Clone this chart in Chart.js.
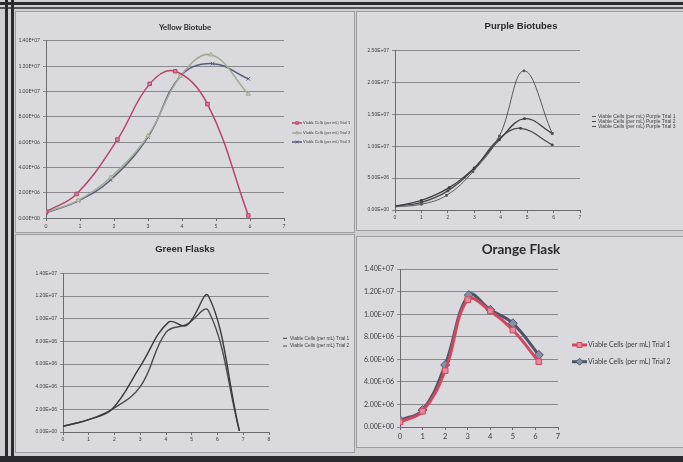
<!DOCTYPE html>
<html>
<head>
<meta charset="utf-8">
<script src="https://cdn.jsdelivr.net/npm/chart.js@4/dist/chart.umd.min.js"></script>
<style>
  html, body { margin: 0; padding: 0; }
  body { width: 683px; height: 462px; position: relative; overflow: hidden; background: #cfcfd4; }
  .band { position: absolute; background: #2a2a30; }
  .panel { position: absolute; background: #dadade; border: 1px solid #9c9ca2; box-sizing: border-box; }
  .panel canvas { position: absolute; left: 0; top: 0; }
</style>
</head>
<body>
<div class="band" style="left:0;top:2px;width:683px;height:3px;"></div>
<div class="band" style="left:0;top:7px;width:683px;height:2px;background:#55555c;"></div>
<div class="band" style="left:5px;top:0;width:3px;height:462px;"></div>
<div class="band" style="left:11px;top:0;width:3px;height:462px;"></div>
<div class="band" style="left:0;top:456px;width:683px;height:6px;"></div>

<div class="panel" style="left:15px;top:11px;width:340px;height:222px;"><canvas id="yellow"></canvas></div>
<div class="panel" style="left:356px;top:11px;width:330px;height:220px;"><canvas id="purple"></canvas></div>
<div class="panel" style="left:15px;top:234px;width:340px;height:219px;"><canvas id="green"></canvas></div>
<div class="panel" style="left:356px;top:236px;width:330px;height:212px;"><canvas id="orange"></canvas></div>

<script>
// Yellow Biotube
const yellowTrial1X = [0, 0.9, 2.1, 3.05, 3.8, 4.75, 5.95];
const yellowTrial1Y = [5.0e5, 1.9e6, 6.2e6, 1.06e7, 1.16e7, 9.0e6, 2.0e5];
const yellowTrial2X = [0, 0.95, 1.9, 3.0, 3.95, 4.85, 5.95];
const yellowTrial2Y = [4.5e5, 1.4e6, 3.2e6, 6.5e6, 1.12e7, 1.29e7, 9.8e6];
const yellowTrial3X = [0, 0.95, 1.9, 3.0, 3.95, 4.9, 5.95];
const yellowTrial3Y = [4.0e5, 1.35e6, 3.0e6, 6.4e6, 1.12e7, 1.22e7, 1.1e7];

// Purple Biotubes
const purpleTrial1X = [0, 1, 1.95, 2.95, 3.95, 4.88, 5.95];
const purpleTrial1Y = [5.0e5, 9.0e5, 2.3e6, 6.0e6, 1.16e7, 2.18e7, 1.2e7];
const purpleTrial2X = [0, 1, 2.05, 3.0, 3.95, 4.9, 5.95];
const purpleTrial2Y = [6.0e5, 1.5e6, 3.5e6, 6.6e6, 1.1e7, 1.43e7, 1.2e7];
const purpleTrial3X = [0, 1, 2.0, 3.0, 3.9, 4.75, 5.95];
const purpleTrial3Y = [6.0e5, 1.2e6, 3.0e6, 6.5e6, 1.1e7, 1.28e7, 1.02e7];

// Green Flasks
const greenTrial1X = [0, 1, 1.9, 3.0, 4.1, 4.8, 5.65, 6.85];
const greenTrial1Y = [5.0e5, 1.1e6, 2.0e6, 5.8e6, 9.7e6, 9.4e6, 1.2e7, 1.0e5];
const greenTrial2X = [0, 1, 1.9, 3.0, 4.0, 4.8, 5.65, 6.85];
const greenTrial2Y = [5.0e5, 1.1e6, 2.0e6, 4.0e6, 8.8e6, 9.5e6, 1.07e7, 1.0e5];

// Orange Flask
const orangeTrial1X = [0, 1, 2, 3, 4, 5, 6.15];
const orangeTrial1Y = [4.5e5, 1.4e6, 5.0e6, 1.13e7, 1.03e7, 8.6e6, 5.8e6];
const orangeTrial2X = [0, 1, 2, 3.05, 4, 5, 6.15];
const orangeTrial2Y = [6.0e5, 1.5e6, 5.5e6, 1.17e7, 1.04e7, 9.2e6, 6.4e6];

function pairs(xs, ys) {
    return xs.map((x, i) => ({ x: x, y: ys[i] }));
}

// Excel style 1.40E+07
function sci(v) {
    if (v === 0) return "0.00E+00";
    let e = Math.floor(Math.log10(Math.abs(v)) + 1e-9);
    let m = v / Math.pow(10, e);
    return m.toFixed(2) + "E+" + String(e).padStart(2, "0");
}

// Excel puts the legend off to the right, line + marker + text
const sideLegend = {
    id: "sideLegend",
    afterDraw(chart, args, opts) {
        const ctx = chart.ctx;
        ctx.save();
        chart.data.datasets.forEach((ds, i) => {
            const y = opts.y[i];
            ctx.strokeStyle = ds.borderColor;
            ctx.lineWidth = opts.lineWidth;
            ctx.beginPath();
            ctx.moveTo(opts.x1, y);
            ctx.lineTo(opts.x2, y);
            ctx.stroke();
            if (opts.marker > 0) {
                ctx.fillStyle = ds.pointBackgroundColor;
                ctx.strokeStyle = ds.borderColor;
                ctx.lineWidth = 1;
                Chart.helpers.drawPoint(ctx, { pointStyle: ds.pointStyle, radius: opts.marker, rotation: 0, borderWidth: 1 }, (opts.x1 + opts.x2) / 2, y);
            }
            ctx.fillStyle = "#3a3a40";
            ctx.font = opts.font;
            ctx.textBaseline = "middle";
            ctx.textAlign = "left";
            ctx.fillText(ds.label, opts.textX, y);
        });
        ctx.restore();
    }
};

function makeChart(id, w, h, cfg) {
    const canvas = document.getElementById(id);
    canvas.style.width = w + "px";
    canvas.style.height = h + "px";
    canvas.width = w;
    canvas.height = h;

    return new Chart(canvas.getContext("2d"), {
        type: "scatter",
        data: { datasets: cfg.datasets },
        plugins: [sideLegend],
        options: {
            responsive: false,
            animation: false,
            layout: { padding: { left: 0, right: 0, top: 0, bottom: cfg.padBottom } },
            plugins: {
                title: {
                    display: true,
                    text: cfg.title,
                    color: "#2a2a2e",
                    font: cfg.titleFont,
                    padding: cfg.titlePadding
                },
                legend: { display: false },
                sideLegend: cfg.legend,
                tooltip: { enabled: false }
            },
            scales: {
                x: {
                    type: "linear",
                    min: 0,
                    max: cfg.xMax,
                    afterFit: (axis) => { axis.height = cfg.xAxisH; },
                    ticks: { stepSize: 1, color: "#3a3a40", font: cfg.xFont, padding: 2 },
                    grid: { drawOnChartArea: false, drawTicks: true, tickLength: 3, color: "#6a6a70" },
                    border: { color: "#6a6a70" }
                },
                y: {
                    min: 0,
                    max: cfg.yMax,
                    afterFit: (axis) => { axis.width = cfg.yAxisW; },
                    ticks: { stepSize: cfg.yStep, color: "#3a3a40", font: cfg.yFont, padding: 3, callback: (v) => sci(v) },
                    grid: { color: "#88888e", lineWidth: 1, tickLength: 3 },
                    border: { color: "#6a6a70" }
                },
                // empty right-hand axis that keeps room for the legend
                side: {
                    position: "right",
                    min: 0,
                    max: 1,
                    afterFit: (axis) => { axis.width = w - cfg.plotRight; },
                    ticks: { display: false },
                    grid: { display: false },
                    border: { display: false }
                }
            }
        }
    });
}

function series(label, xs, ys, color, fill, style, radius, width) {
    return {
        label: label,
        data: pairs(xs, ys),
        showLine: true,
        tension: 0.4,
        borderColor: color,
        backgroundColor: fill,
        borderWidth: width,
        pointStyle: style,
        pointRadius: radius,
        pointBorderColor: color,
        pointBackgroundColor: fill,
        pointBorderWidth: 1
    };
}

makeChart("yellow", 338, 220, {
    title: "Yellow Biotube",
    titleFont: { family: "Lato", size: 7.8, weight: "bold" },
    titlePadding: { top: 11, bottom: 8.5 },
    legend: { x1: 276, x2: 286, textX: 287, y: [111, 121, 130], lineWidth: 1.5, marker: 1.8, font: "4px Lato" },
    xFont: { family: "Lato", size: 5 },
    yFont: { family: "Lato", size: 5 },
    padBottom: 2,
    xAxisH: 12, yAxisW: 30,
    plotRight: 268,
    xMax: 7, yMax: 1.4e7, yStep: 2e6,
    datasets: [
        series("Viable Cells (per mL) Trial 1", yellowTrial1X, yellowTrial1Y, "#b84468", "#e07898", "rect", 2.5, 1.5),
        series("Viable Cells (per mL) Trial 2", yellowTrial2X, yellowTrial2Y, "#a2aa92", "#c8ccbc", "triangle", 2.5, 1.5),
        series("Viable Cells (per mL) Trial 3", yellowTrial3X, yellowTrial3Y, "#565c7c", "#8088a4", "crossRot", 2.5, 1.5)
    ]
});

makeChart("purple", 328, 218, {
    title: "Purple Biotubes",
    titleFont: { family: "Liberation Sans", size: 9.5, weight: "bold" },
    titlePadding: { top: 9, bottom: 18 },
    legend: { x1: 235, x2: 239, textX: 241, y: [104.5, 109.5, 114.5], lineWidth: 1, marker: 0, font: "5px 'Liberation Sans'" },
    xFont: { family: "Liberation Sans", size: 5 },
    yFont: { family: "Liberation Sans", size: 5 },
    padBottom: 8,
    xAxisH: 12, yAxisW: 38,
    plotRight: 223,
    xMax: 7, yMax: 2.5e7, yStep: 5e6,
    datasets: [
        series("Viable Cells (per mL) Purple Trial 1", purpleTrial1X, purpleTrial1Y, "#56565e", "#56565e", "rect", 1.2, 1),
        series("Viable Cells (per mL) Purple Trial 2", purpleTrial2X, purpleTrial2Y, "#3e3e46", "#3e3e46", "rect", 1.2, 1.3),
        series("Viable Cells (per mL) Purple Trial 3", purpleTrial3X, purpleTrial3Y, "#48484f", "#48484f", "rect", 1.2, 1.3)
    ]
});

makeChart("green", 338, 217, {
    title: "Green Flasks",
    titleFont: { family: "Liberation Sans", size: 9.5, weight: "bold" },
    titlePadding: { top: 9, bottom: 18 },
    legend: { x1: 267, x2: 271, textX: 274, y: [103.3, 111], lineWidth: 1, marker: 0, font: "4.8px 'Liberation Sans'" },
    xFont: { family: "Liberation Sans", size: 5 },
    yFont: { family: "Liberation Sans", size: 5 },
    padBottom: 8,
    xAxisH: 12, yAxisW: 47,
    plotRight: 253,
    xMax: 8, yMax: 1.4e7, yStep: 2e6,
    datasets: [
        series("Viable Cells (per mL) Trial 1", greenTrial1X, greenTrial1Y, "#3c3840", "#3c3840", "circle", 0, 1.4),
        series("Viable Cells (per mL) Trial 2", greenTrial2X, greenTrial2Y, "#4c4850", "#4c4850", "circle", 0, 1.4)
    ]
});

makeChart("orange", 328, 210, {
    title: "Orange Flask",
    titleFont: { family: "Lato", size: 13.5, weight: "bold" },
    titlePadding: { top: 5, bottom: 11 },
    legend: { x1: 215, x2: 230, textX: 231, y: [108, 124.7], lineWidth: 3, marker: 3.5, font: "7px Lato" },
    xFont: { family: "Lato", size: 7.5 },
    yFont: { family: "Lato", size: 7 },
    padBottom: 4,
    xAxisH: 16, yAxisW: 43,
    plotRight: 201,
    xMax: 7, yMax: 1.4e7, yStep: 2e6,
    datasets: [
        series("Viable Cells (per mL) Trial 1", orangeTrial1X, orangeTrial1Y, "#d04860", "#e88898", "rect", 4, 3),
        series("Viable Cells (per mL) Trial 2", orangeTrial2X, orangeTrial2Y, "#4c5468", "#8890a8", "rectRot", 4.5, 3)
    ]
});
</script>
</body>
</html>
